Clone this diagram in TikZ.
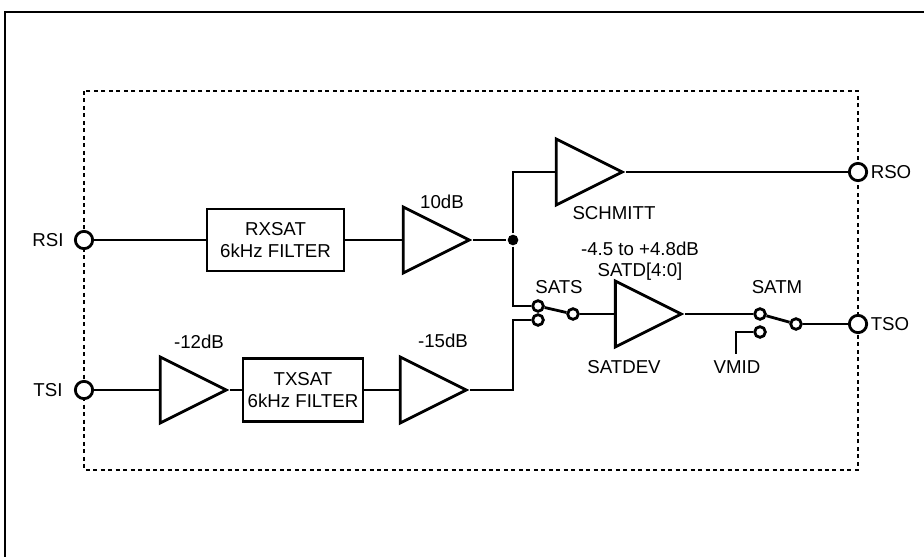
\documentclass[tikz,border=0pt]{standalone}
\usepackage{fontspec}
\setmainfont{Liberation Sans}
\usetikzlibrary{shapes.geometric}

\tikzset{every picture/.style={line width=2.1pt}}
\tikzset{
  amp/.style={draw, isosceles triangle, isosceles triangle stretches, minimum width=49.5pt, minimum height=49.5pt, inner sep=0pt, anchor=apex},
  filterbox/.style={draw, rectangle, align=center, inner sep=0pt, font=\fontsize{14}{17}\selectfont},
  term/.style={draw, circle, fill=white, minimum size=13pt, inner sep=0pt},
  contact/.style={draw, circle, fill=white, minimum size=8pt, inner sep=0pt},
  junction/.style={fill, circle, minimum size=8pt, inner sep=0pt},
  lbl/.style={inner sep=0.75pt, font=\fontsize{14}{17}\selectfont},
  boundary/.style={dash pattern=on 3pt off 2.6pt, line width=2pt},
}

\begin{document}
\begin{tikzpicture}[x=0.75pt,y=0.75pt,yscale=-1,xscale=1]
\useasboundingbox (0,0) rectangle (924,557);

%Frame
\draw [line width=1.9pt] (924,12) -- (5,12) -- (5,557) ;
%Dotted boundary
\draw [boundary] (84,91) rectangle (858,470) ;

% Terminals
\node [term] (rsi) at (84,240) {};
\node [term] (tsi) at (84,390) {};
\node [term] (rso) at (858,172) {};
\node [term] (tso) at (858,324) {};

% Filters
\node [filterbox, minimum width=102.75pt, minimum height=46.5pt] (rxbox) at (275.5,240) {RXSAT\\6kHz FILTER};
\node [filterbox, minimum width=90pt, minimum height=47.25pt] (txbox) at (303,390) {TXSAT\\6kHz FILTER};

% Amplifiers
\node [amp] (amp10) at (473,240) {};
\node [amp] (schmitt) at (626,172) {};
\node [amp] (satdev) at (685,314) {};
\node [amp] (amp12) at (230,390) {};
\node [amp] (amp15) at (470,390) {};

% Junction and switch contacts
\node [junction] (jn) at (513,240) {};
\node [contact] (sats1) at (538,306) {};
\node [contact] (sats2) at (538,320) {};
\node [contact] (satsp) at (573,314) {};
\node [contact] (satm1) at (760,314) {};
\node [contact] (satm2) at (760,332) {};
\node [contact] (satmp) at (796,324) {};
\coordinate (vmid) at (736,354);

%Straight Lines
\draw (rsi) -- (rxbox.west) ;
\draw (rxbox.east) -- (amp10.lower side) ;
\draw (amp10.apex) -- (jn) ;
\draw (jn) |- (schmitt.lower side) ;
\draw (schmitt.apex) -- (rso) ;
\draw (jn) |- (sats1) ;
\draw (sats1) -- (satsp) ;
\draw (satsp) -- (satdev.lower side) ;
\draw (satdev.apex) -- (satm1) ;
\draw (satm1) -- (satmp) ;
\draw (satmp) -- (tso) ;
\draw (satm2) -| (vmid) ;
\draw (tsi) -- (amp12.lower side) ;
\draw (amp12.apex) -- (txbox.west) ;
\draw (txbox.east) -- (amp15.lower side) ;
\draw (amp15.apex) -- (amp15.apex -| jn) |- (sats2) ;

% Text Node
\node [lbl] (rsilbl) at (48,240) {RSI};
\node [lbl] (tsilbl) at (48,390) {TSI};
\node [lbl] (rsolbl) at (891,172) {RSO};
\node [lbl] (tsolbl) at (890,324) {TSO};
\node [lbl] (g10) at (442,202) {10dB};
\node [lbl] (g12) at (199,342) {-12dB};
\node [lbl] (g15) at (443,341) {-15dB};
\node [lbl] (schlbl) at (614,213) {SCHMITT};
\node [lbl] (satrange) at (640,249) {-4.5 to +4.8dB};
\node [lbl] (satd) at (640,272) {SATD[4:0]};
\node [lbl] (satdevlbl) at (624,367) {SATDEV};
\node [lbl] (satslbl) at (559,287) {SATS};
\node [lbl] (satmlbl) at (777,287) {SATM};
\node [lbl] (vmidlbl) at (737,367) {VMID};

\end{tikzpicture}
\end{document}
